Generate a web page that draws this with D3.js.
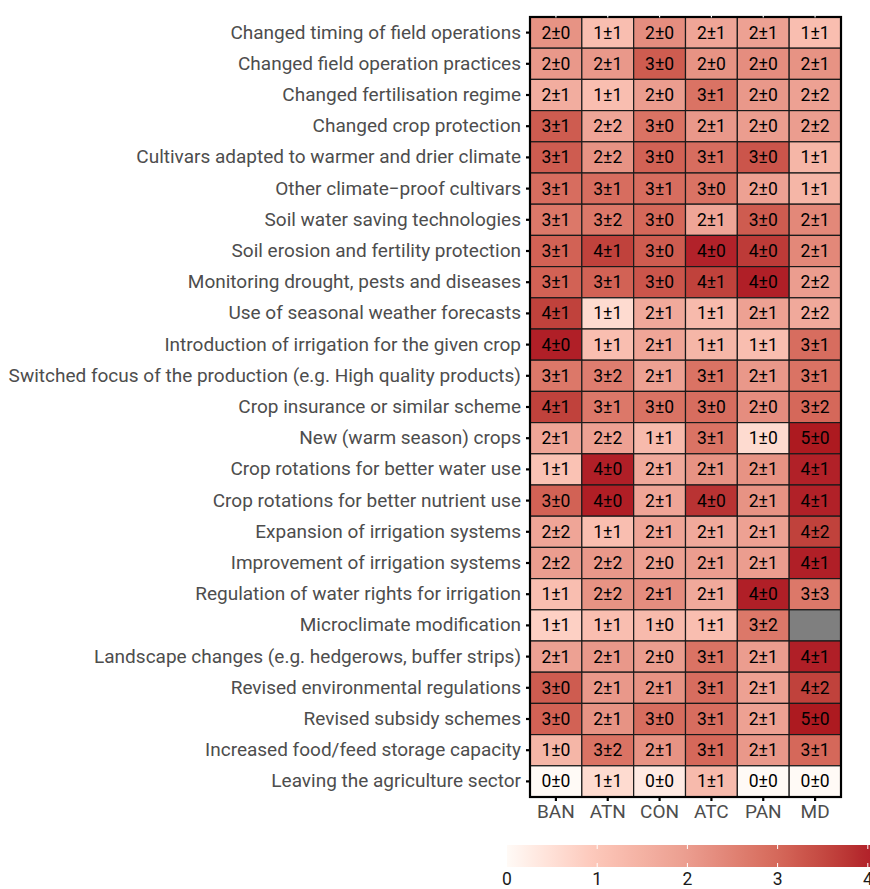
<!DOCTYPE html>
<html>
<head>
<meta charset="utf-8">
<script src="https://cdn.jsdelivr.net/npm/d3@7"></script>
<style>
  html, body { margin: 0; padding: 0; background: #fff; }
  svg { display: block; font-family: Roboto, "Noto Sans", sans-serif; }
</style>
</head>
<body>
<svg id="chart" width="870" height="889"></svg>
<script>
// Adaptation measures (rows) and regions (columns)
const measures = [
  "Changed timing of field operations",
  "Changed field operation practices",
  "Changed fertilisation regime",
  "Changed crop protection",
  "Cultivars adapted to warmer and drier climate",
  "Other climate\u2212proof cultivars",
  "Soil water saving technologies",
  "Soil erosion and fertility protection",
  "Monitoring drought, pests and diseases",
  "Use of seasonal weather forecasts",
  "Introduction of irrigation for the given crop",
  "Switched focus of the production (e.g. High quality products)",
  "Crop insurance or similar scheme",
  "New (warm season) crops",
  "Crop rotations for better water use",
  "Crop rotations for better nutrient use",
  "Expansion of irrigation systems",
  "Improvement of irrigation systems",
  "Regulation of water rights for irrigation",
  "Microclimate modification",
  "Landscape changes (e.g. hedgerows, buffer strips)",
  "Revised environmental regulations",
  "Revised subsidy schemes",
  "Increased food/feed storage capacity",
  "Leaving the agriculture sector"
];

const regions = ["BAN", "ATN", "CON", "ATC", "PAN", "MD"];

// Mean score per measure and region (null = no answer)
const meanScores = [
  [2.2, 1.2, 2.3, 1.8, 1.9, 1.2],
  [2.1, 2.1, 3.2, 2.2, 2.3, 2.2],
  [1.6, 1.2, 2.0, 2.8, 2.1, 1.9],
  [3.2, 1.8, 2.8, 2.1, 2.0, 2.0],
  [3.2, 2.2, 3.1, 2.9, 3.3, 1.4],
  [2.9, 2.9, 2.9, 2.8, 1.9, 1.4],
  [2.7, 2.7, 3.0, 1.8, 3.2, 2.4],
  [3.1, 3.6, 3.2, 4.0, 3.7, 2.4],
  [3.1, 3.1, 3.3, 3.6, 4.2, 2.0],
  [3.6, 0.6, 1.7, 1.3, 1.9, 1.7],
  [4.2, 1.2, 1.8, 1.4, 1.2, 2.9],
  [2.7, 2.6, 1.9, 2.8, 2.1, 2.8],
  [3.6, 2.7, 2.8, 2.9, 2.3, 3.0],
  [1.8, 1.9, 1.3, 2.8, 0.6, 4.6],
  [1.1, 4.2, 1.7, 2.2, 2.2, 4.1],
  [3.1, 4.3, 1.8, 3.8, 2.2, 4.1],
  [1.8, 1.2, 1.8, 1.7, 1.9, 3.6],
  [2.0, 2.1, 1.9, 2.0, 2.0, 4.2],
  [1.2, 2.2, 2.3, 1.7, 4.2, 2.7],
  [0.8, 1.2, 1.3, 1.2, 2.7, null],
  [1.9, 2.1, 2.0, 2.8, 2.0, 4.2],
  [3.2, 2.1, 2.2, 2.9, 1.9, 3.6],
  [3.1, 2.2, 2.9, 2.9, 1.9, 4.6],
  [1.4, 2.8, 2.2, 3.0, 2.1, 3.0],
  [0.0, 0.6, 0.3, 1.3, 0.0, 0.0]
];

// Standard deviation (rounded) per measure and region
const sdScores = [
  [0, 1, 0, 1, 1, 1],
  [0, 1, 0, 0, 0, 1],
  [1, 1, 0, 1, 0, 2],
  [1, 2, 0, 1, 0, 2],
  [1, 2, 0, 1, 0, 1],
  [1, 1, 1, 0, 0, 1],
  [1, 2, 0, 1, 0, 1],
  [1, 1, 0, 0, 0, 1],
  [1, 1, 0, 1, 0, 2],
  [1, 1, 1, 1, 1, 2],
  [0, 1, 1, 1, 1, 1],
  [1, 2, 1, 1, 1, 1],
  [1, 1, 0, 0, 0, 2],
  [1, 2, 1, 1, 0, 0],
  [1, 0, 1, 1, 1, 1],
  [0, 0, 1, 0, 1, 1],
  [2, 1, 1, 1, 1, 2],
  [2, 2, 0, 1, 1, 1],
  [1, 2, 1, 1, 0, 3],
  [1, 1, 0, 1, 2, null],
  [1, 1, 0, 1, 1, 1],
  [0, 1, 1, 1, 1, 2],
  [0, 1, 0, 1, 1, 0],
  [0, 2, 1, 1, 1, 1],
  [0, 1, 0, 1, 0, 0]
];

const legendTicks = [0, 1, 2, 3, 4];

// ---- layout ----
const svg = d3.select("#chart");
const panel = { left: 530, right: 841, top: 17, bottom: 797 };

const x = d3.scaleBand().domain(regions).range([panel.left, panel.right]).padding(0);
const y = d3.scaleBand().domain(measures).range([panel.top, panel.bottom]).padding(0);

const maxScore = d3.max(meanScores.flat().filter(v => v != null));
const color = d3.scaleLinear()
  .domain([0, 1, 2, 3, 4, maxScore])
  .range(["#fffaf6", "#fcc6b8", "#eb9d8f", "#d5685a", "#b2222a", "#ad1a20"])
  .interpolate(d3.interpolateLab)
  .clamp(true);

// flatten cells
const cells = [];
measures.forEach((m, i) => {
  regions.forEach((r, j) => {
    cells.push({ measure: m, region: r, mean: meanScores[i][j], sd: sdScores[i][j] });
  });
});

// ---- tiles ----
const g = svg.append("g");
g.selectAll("rect.tile")
  .data(cells)
  .join("rect")
  .attr("class", "tile")
  .attr("x", d => x(d.region))
  .attr("y", d => y(d.measure))
  .attr("width", x.bandwidth())
  .attr("height", y.bandwidth())
  .attr("fill", d => d.mean == null ? "#7f7f7f" : color(d.mean))
  .attr("stroke", "#1a1a1a")
  .attr("stroke-width", 1.2);

g.selectAll("text.cell")
  .data(cells.filter(d => d.mean != null))
  .join("text")
  .attr("class", "cell")
  .attr("x", d => x(d.region) + x.bandwidth() / 2)
  .attr("y", d => y(d.measure) + y.bandwidth() / 2)
  .attr("text-anchor", "middle")
  .attr("dominant-baseline", "central")
  .attr("font-size", 17.5)
  .attr("fill", "#000")
  .text(d => `${Math.round(d.mean)}\u00b1${d.sd}`);

// ---- panel border ----
svg.append("rect")
  .attr("x", panel.left)
  .attr("y", panel.top)
  .attr("width", panel.right - panel.left)
  .attr("height", panel.bottom - panel.top)
  .attr("fill", "none")
  .attr("stroke", "#000")
  .attr("stroke-width", 2.2);

// small white marks on the top edge
svg.append("g").selectAll("line")
  .data(regions)
  .join("line")
  .attr("x1", d => x(d) + x.bandwidth() / 2)
  .attr("x2", d => x(d) + x.bandwidth() / 2)
  .attr("y1", panel.top - 1.5)
  .attr("y2", panel.top + 0.5)
  .attr("stroke", "#fff")
  .attr("stroke-width", 1.2);

// ---- axes ----
const yAxis = svg.append("g")
  .attr("transform", `translate(${panel.left},0)`)
  .call(d3.axisLeft(y).tickSize(4).tickPadding(5));
yAxis.select(".domain").remove();
yAxis.selectAll(".tick line").attr("stroke", "#000").attr("stroke-width", 2.2);
yAxis.selectAll(".tick text")
  .attr("font-size", 19)
  .attr("fill", "#4d4d4d")
  .attr("font-family", "Roboto, sans-serif");

const xAxis = svg.append("g")
  .attr("transform", `translate(0,${panel.bottom})`)
  .call(d3.axisBottom(x).tickSize(4).tickPadding(4));
xAxis.select(".domain").remove();
xAxis.selectAll(".tick line").attr("stroke", "#000").attr("stroke-width", 2.2);
xAxis.selectAll(".tick text")
  .attr("font-size", 19)
  .attr("fill", "#4d4d4d")
  .attr("font-family", "Roboto, sans-serif");

// ---- colour bar legend ----
const legendX = d3.scaleLinear().domain([0, maxScore]).range([507, 507 + 90.2 * maxScore]);
const defs = svg.append("defs");
const grad = defs.append("linearGradient").attr("id", "scoreGrad")
  .attr("x1", "0%").attr("x2", "100%").attr("y1", "0%").attr("y2", "0%");
d3.range(0, 41).forEach(k => {
  const v = maxScore * k / 40;
  grad.append("stop").attr("offset", `${k / 40 * 100}%`).attr("stop-color", color(v));
});

const barTop = 845, barH = 22;
svg.append("rect")
  .attr("x", legendX(0))
  .attr("y", barTop)
  .attr("width", legendX(maxScore) - legendX(0))
  .attr("height", barH)
  .attr("fill", "url(#scoreGrad)");

const lt = svg.append("g");
lt.selectAll("line.top")
  .data(legendTicks.filter(t => t > 0))
  .join("line")
  .attr("x1", d => legendX(d)).attr("x2", d => legendX(d))
  .attr("y1", barTop).attr("y2", barTop + 4)
  .attr("stroke", "#fff").attr("stroke-width", 1);
lt.selectAll("line.bot")
  .data(legendTicks.filter(t => t > 0))
  .join("line")
  .attr("x1", d => legendX(d)).attr("x2", d => legendX(d))
  .attr("y1", barTop + barH - 4).attr("y2", barTop + barH)
  .attr("stroke", "#fff").attr("stroke-width", 1);
lt.selectAll("text")
  .data(legendTicks)
  .join("text")
  .attr("x", d => legendX(d))
  .attr("y", 885)
  .attr("text-anchor", "middle")
  .attr("font-size", 17.5)
  .attr("fill", "#1a1a1a")
  .text(d => d);
</script>
</body>
</html>
